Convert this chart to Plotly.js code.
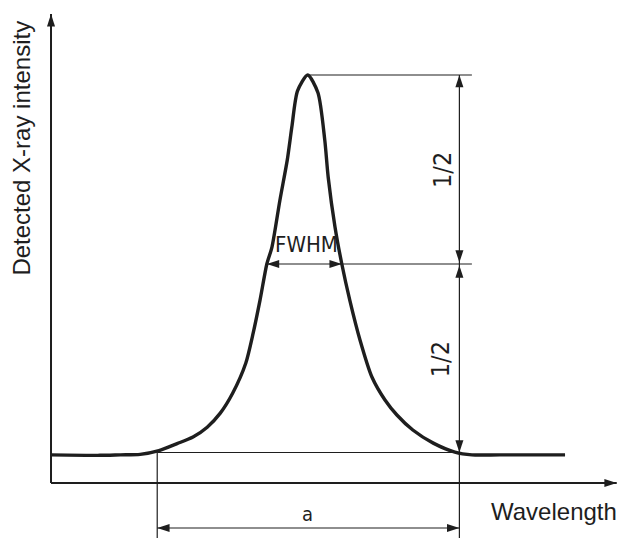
<!DOCTYPE html>
<html>
<head>
<meta charset="utf-8">
<script src="https://cdn.plot.ly/plotly-3.0.1.min.js"></script>
<style>html,body{margin:0;padding:0;background:#fff;}#chart{width:619px;height:538px;}</style>
</head>
<body>
<div id="chart"></div>
<script>
// Peak profile (arbitrary units)
const wavelength = [0, 8.6, 12.2, 15.7, 19.0, 22.2, 25.0, 27.5, 29.8, 32.0, 34.3, 35.6, 36.8, 38.0, 38.9, 40.3, 41.6, 42.4, 43.4, 45.2, 47.0, 48.2, 48.8, 50.0, 51.2, 52.6, 54.4, 56.5, 58.8, 60.9, 63.7, 67.3, 71.1, 74.1, 79.0, 90.5];
const intensity  = [6.0, 5.9, 6.0, 6.1, 6.9, 8.4, 9.8, 11.9, 14.9, 19.2, 25.6, 32.0, 39.0, 46.7, 50.3, 60.3, 68.9, 75.9, 83.6, 87.0, 83.2, 73.1, 65.2, 54.6, 46.7, 39.0, 30.5, 22.6, 17.7, 14.5, 11.3, 8.5, 6.6, 6.0, 6.0, 6.0];

// Annotation levels / positions (same units)
const baselineLevel = 6.5;
const peakLevel = 87.0;
const halfLevel = 46.7;
const peakPos = 45.2;
const fwhmLeft = 38.0;
const fwhmRight = 51.2;
const baseLeft = 18.7;
const baseRight = 71.9;
const dimEnd = 74.1;
const aLevel = -9.6;
const axisTop = 100;
const axisRight = 99.6;

const xRange = [-8.98, 100.0];
const yRange = [-11.73, 102.99];

const ink = '#1e1e1e';
const thin = {color: ink, width: 1.2};

function seg(x0, y0, x1, y1, line) {
  return {type: 'line', xref: 'x', yref: 'y', x0: x0, y0: y0, x1: x1, y1: y1, line: line || thin, layer: 'above'};
}

const shapes = [
  seg(0, 0, 0, axisTop, {color: ink, width: 2}),
  seg(0, 0, axisRight, 0, {color: ink, width: 2}),
  seg(baseLeft, baselineLevel, baseRight, baselineLevel),
  seg(peakPos, peakLevel, dimEnd, peakLevel),
  seg(fwhmLeft, halfLevel, dimEnd, halfLevel),
  seg(baseRight, peakLevel, baseRight, baselineLevel),
  seg(baseLeft, baselineLevel, baseLeft, yRange[0]),
  seg(baseRight, baselineLevel, baseRight, yRange[0]),
  seg(baseLeft, aLevel, baseRight, aLevel)
];

// arrow tips and directions
const arrowX = [0, axisRight, baseRight, baseRight, baseRight, baseRight, fwhmLeft, fwhmRight, baseLeft, baseRight];
const arrowY = [axisTop, 0, peakLevel, halfLevel + 0.3, halfLevel - 0.3, baselineLevel, halfLevel, halfLevel, aLevel, aLevel];
const arrowAngle = [0, 90, 0, 180, 0, 180, 270, 90, 270, 90];

const traces = [
  {
    x: wavelength, y: intensity, type: 'scatter', mode: 'lines',
    line: {color: ink, width: 3.4, shape: 'spline', smoothing: 0.7},
    hoverinfo: 'skip', showlegend: false
  },
  {
    x: arrowX, y: arrowY, type: 'scatter', mode: 'markers',
    marker: {symbol: 'arrow', size: 13, angle: arrowAngle, color: ink, line: {width: 0}},
    hoverinfo: 'skip', showlegend: false, cliponaxis: false
  }
];

const sans = 'Liberation Sans, Arial, sans-serif';
const narrow = 'DejaVu Sans Condensed, Liberation Sans Narrow, Arial Narrow, sans-serif';

const annotations = [
  {x: -5.2, y: 71.4, text: 'Detected X-ray intensity', textangle: -90, showarrow: false,
   font: {family: sans, size: 24, color: ink}, xanchor: 'center', yanchor: 'middle'},
  {x: 100, y: -6.0, text: 'Wavelength', showarrow: false,
   font: {family: sans, size: 24, color: ink}, xanchor: 'right', yanchor: 'middle'},
  {x: 44.9, y: 50.9, text: 'FWHM', showarrow: false,
   font: {family: narrow, size: 22, color: ink}, xanchor: 'center', yanchor: 'middle'},
  {x: 68.8, y: 66.7, text: '1/2', textangle: -90, showarrow: false,
   font: {family: narrow, size: 25, color: ink}, xanchor: 'center', yanchor: 'middle'},
  {x: 68.5, y: 26.4, text: '1/2', textangle: -90, showarrow: false,
   font: {family: narrow, size: 25, color: ink}, xanchor: 'center', yanchor: 'middle'},
  {x: 45.2, y: -6.6, text: 'a', showarrow: false,
   font: {family: narrow, size: 20, color: ink}, xanchor: 'center', yanchor: 'middle'}
];

const layout = {
  width: 619, height: 538,
  margin: {l: 0, r: 0, t: 0, b: 0},
  paper_bgcolor: '#ffffff', plot_bgcolor: '#ffffff',
  xaxis: {range: xRange, visible: false, fixedrange: true},
  yaxis: {range: yRange, visible: false, fixedrange: true},
  shapes: shapes,
  annotations: annotations,
  showlegend: false
};

Plotly.newPlot('chart', traces, layout, {displayModeBar: false, staticPlot: true});
</script>
</body>
</html>
